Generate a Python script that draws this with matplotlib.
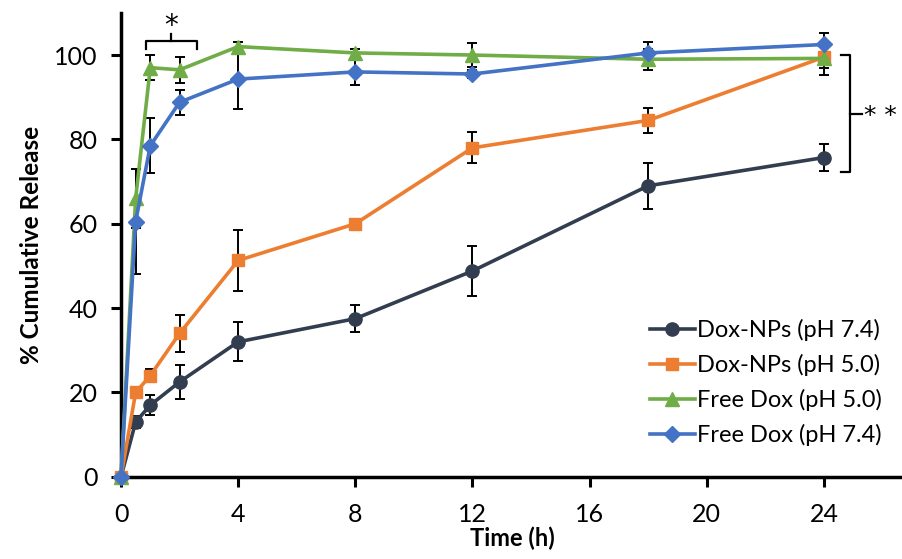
import numpy as np
import matplotlib.pyplot as plt
from matplotlib.lines import Line2D

plt.rcParams['font.family'] = ['Lato', 'DejaVu Sans']

# data
time_h = [0, 0.5, 1, 2, 4, 8, 12, 18, 24]

nps_74 = [0, 13, 17, 22.5, 32, 37.5, 48.8, 69, 75.7]
nps_74_err = [0, 1.5, 2.4, 4, 4.6, 3.2, 5.9, 5.4, 3.3]

nps_50 = [0, 20, 24, 34, 51.3, 60, 78, 84.5, 99.5]
nps_50_err = [0, 1, 1.5, 4.4, 7.3, 0.8, 3.7, 2.9, 2.5]

free_50 = [0, 66, 97, 96.5, 102, 100.5, 100, 99, 99.2]
free_50_err = [0, 7, 3, 3.1, 1, 1, 2.8, 2.5, 4]

free_74 = [0, 60.5, 78.5, 88.8, 94.3, 96, 95.5, 100.5, 102.5]
free_74_err = [0, 12.4, 6.5, 3, 7, 3, 1, 2.5, 2.7]

series = [
    ('Dox-NPs (pH 7.4)', nps_74, nps_74_err, '#323e4f', 'o', 9.5),
    ('Dox-NPs (pH 5.0)', nps_50, nps_50_err, '#ed7d31', 's', 9),
    ('Free Dox (pH 5.0)', free_50, free_50_err, '#70ad47', '^', 10.5),
    ('Free Dox (pH 7.4)', free_74, free_74_err, '#4472c4', 'D', 8),
]

fig = plt.figure(figsize=(9.03, 5.59), dpi=100)
ax = fig.add_axes([0.134, 0.147, 0.866, 0.83])

handles = []
for label, y, err, color, marker, ms in series:
    ax.errorbar(time_h, y, yerr=err, color=color, marker=marker, markersize=ms,
                linewidth=2.6, ecolor='black', elinewidth=1.4, capsize=3.5,
                capthick=1.4, clip_on=False, zorder=3)
    handles.append(Line2D([], [], color=color, marker=marker, markersize=ms,
                          linewidth=2.6, label=label))

ax.set_xlim(0, 26.7)
ax.set_ylim(0, 110)
ax.set_xticks(range(0, 25, 4))
ax.set_yticks(range(0, 101, 20))
ax.tick_params(axis='both', labelsize=18, width=2.2, length=7, direction='out')
ax.tick_params(axis='x', pad=12)
ax.tick_params(axis='y', pad=10)
for s in ['top', 'right']:
    ax.spines[s].set_visible(False)
for s in ['left', 'bottom']:
    ax.spines[s].set_linewidth(2.5)

ax.set_xlabel('Time (h)', fontsize=17, fontweight='bold', labelpad=0)
ax.set_ylabel('% Cumulative Release', fontsize=17.5, fontweight='bold', labelpad=8)

# significance brackets
ax.plot([0.85, 0.85, 2.6, 2.6], [101.5, 103.3, 103.3, 101.5], color='black', lw=1.6, clip_on=False)
ax.plot([1.72, 1.72], [103.3, 105], color='black', lw=1.6, clip_on=False)
ax.text(1.72, 107.0, '*', ha='center', va='center', fontsize=20, family='DejaVu Sans')

ax.plot([24.6, 24.9, 24.9, 24.6], [100, 100, 72.3, 72.3], color='black', lw=1.6, clip_on=False)
ax.plot([24.9, 25.3], [86, 86], color='black', lw=1.6, clip_on=False)
ax.text(25.38, 85.5, '* *', ha='left', va='center', fontsize=18, family='DejaVu Sans')

ax.legend(handles=handles, loc='lower right', bbox_to_anchor=(1.0, 0.02), frameon=False,
          fontsize=17, handlelength=1.9, handletextpad=0.1, labelspacing=0.55)

fig.savefig('out.png', dpi=100)
